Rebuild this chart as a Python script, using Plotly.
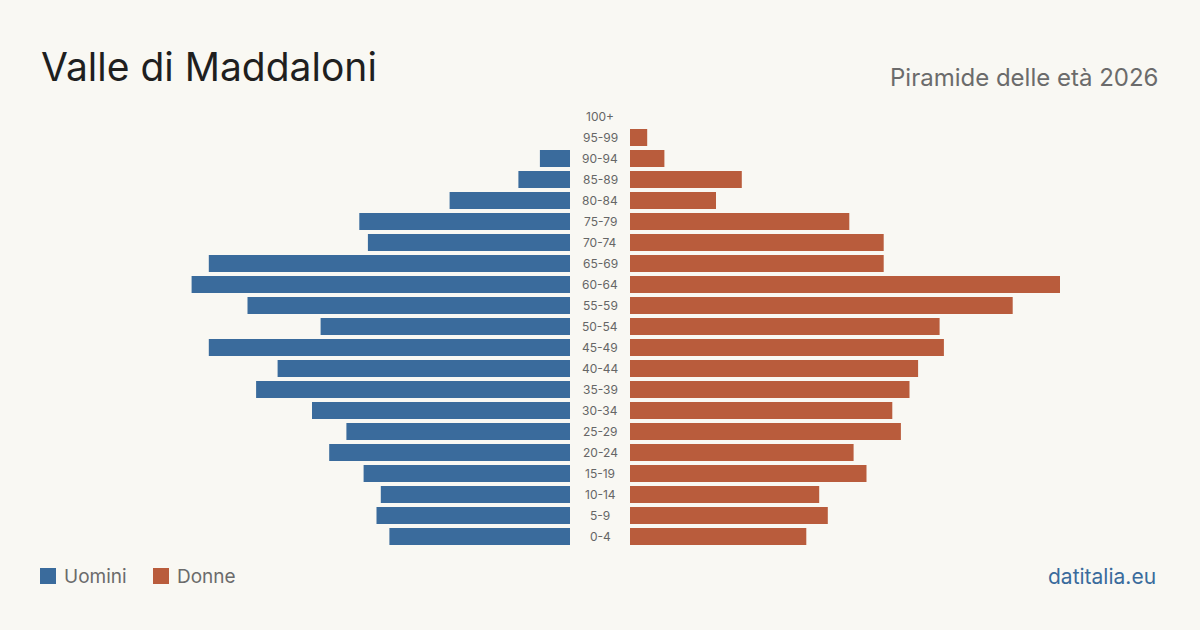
import plotly.graph_objects as go

ages = ["0-4", "5-9", "10-14", "15-19", "20-24", "25-29", "30-34", "35-39", "40-44",
        "45-49", "50-54", "55-59", "60-64", "65-69", "70-74", "75-79", "80-84",
        "85-89", "90-94", "95-99", "100+"]
uomini = [42, 45, 44, 48, 56, 52, 60, 73, 68, 84, 58, 75, 88, 84, 47, 49, 28, 12, 7, 0, 0]
donne = [41, 46, 44, 55, 52, 63, 61, 65, 67, 73, 72, 89, 100, 59, 59, 51, 20, 26, 8, 4, 0]

title = "Valle di Maddaloni"
subtitle = "Piramide delle età 2026"
source = "datitalia.eu"

C_M = "#3a6b9c"
C_F = "#b95c3c"
BG = "#f9f8f3"
FONT = "Inter"

W, H = 1200, 630
XMAX = 110

fig = go.Figure()
fig.add_trace(go.Bar(y=ages, x=uomini, orientation="h", marker=dict(color=C_M, line_width=0),
                     xaxis="x", yaxis="y", name="Uomini", showlegend=False))
fig.add_trace(go.Bar(y=ages, x=donne, orientation="h", marker=dict(color=C_F, line_width=0),
                     xaxis="x2", yaxis="y", name="Donne", showlegend=False))

ann = []
for a in ages:
    ann.append(dict(x=600 / W, xref="paper", y=a, yref="y", text=a, showarrow=False,
                    xanchor="center", yanchor="middle",
                    font=dict(family=FONT, size=12, color="#666666")))
ann.append(dict(x=39 / W, y=1 - 41 / H, xref="paper", yref="paper", text=title, showarrow=False,
                xanchor="left", yanchor="top", font=dict(family=FONT, size=39, color="#1f1f1f")))
ann.append(dict(x=1160 / W, y=1 - 61 / H, xref="paper", yref="paper", text=subtitle, showarrow=False,
                xanchor="right", yanchor="top", font=dict(family=FONT, size=24, color="#6b6b6b")))
ann.append(dict(x=1158 / W, y=1 - 576 / H, xref="paper", yref="paper", text=source, showarrow=False,
                xanchor="right", yanchor="middle", font=dict(family=FONT, size=21, color=C_M)))
ann.append(dict(x=62 / W, y=1 - 576 / H, xref="paper", yref="paper", text="Uomini", showarrow=False,
                xanchor="left", yanchor="middle", font=dict(family=FONT, size=19, color="#6b6b6b")))
ann.append(dict(x=175 / W, y=1 - 576 / H, xref="paper", yref="paper", text="Donne", showarrow=False,
                xanchor="left", yanchor="middle", font=dict(family=FONT, size=19, color="#6b6b6b")))

shapes = [
    dict(type="rect", xref="paper", yref="paper", x0=40 / W, x1=56 / W, y0=1 - 584 / H, y1=1 - 568 / H,
         fillcolor=C_M, line_width=0),
    dict(type="rect", xref="paper", yref="paper", x0=153 / W, x1=169 / W, y0=1 - 584 / H, y1=1 - 568 / H,
         fillcolor=C_F, line_width=0),
]

scale = 4.3
left_w = XMAX * scale
fig.update_layout(
    width=W, height=H, margin=dict(l=0, r=0, t=0, b=0),
    paper_bgcolor=BG, plot_bgcolor=BG,
    bargap=0.19,
    xaxis=dict(domain=[(570 - left_w) / W, 570 / W], range=[XMAX, 0], visible=False, fixedrange=True),
    xaxis2=dict(domain=[630 / W, (630 + left_w) / W], range=[0, XMAX], visible=False, anchor="y"),
    yaxis=dict(domain=[1 - 547 / H, 1 - 106 / H], categoryorder="array", categoryarray=ages,
               visible=False),
    annotations=ann, shapes=shapes,
)

fig.write_html("out.html")
